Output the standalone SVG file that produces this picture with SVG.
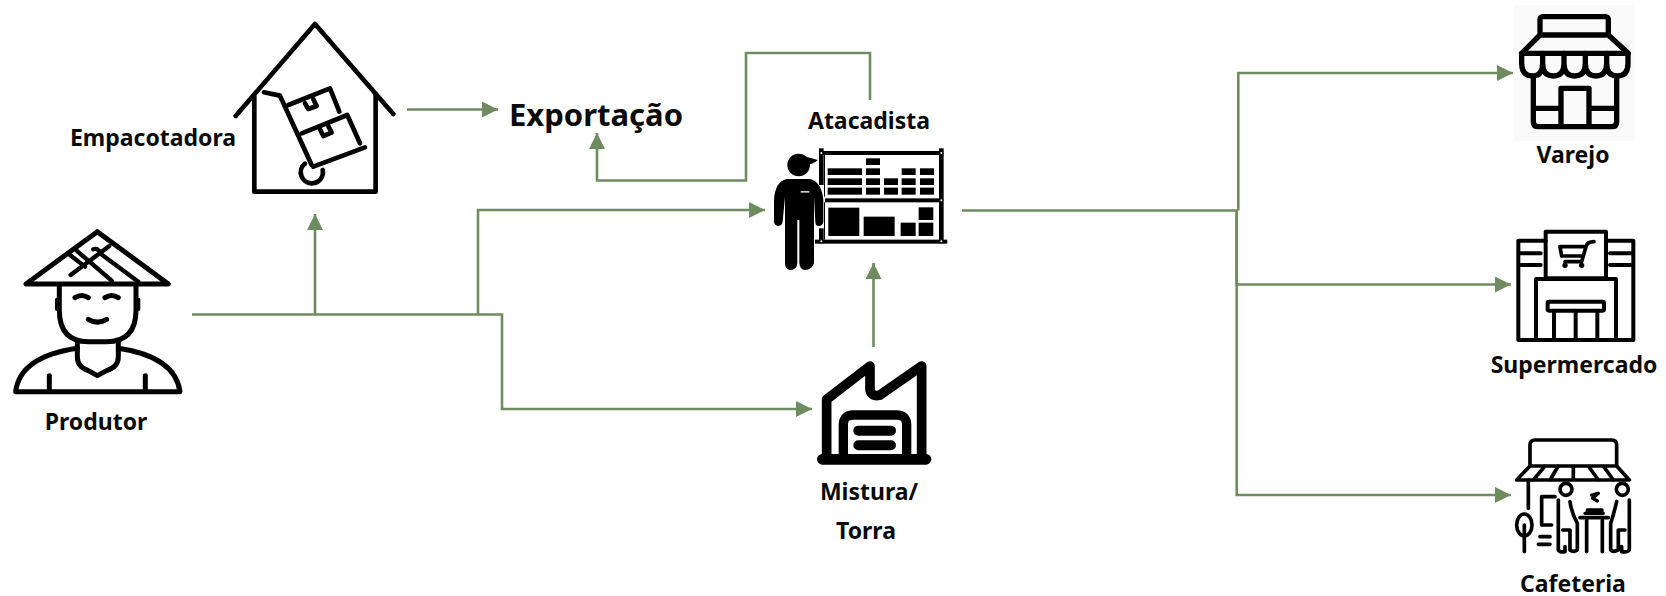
<svg xmlns="http://www.w3.org/2000/svg" width="1666" height="596" viewBox="0 0 1666 596">
<style>
.ic{fill:none;stroke:#000;stroke-linecap:round;stroke-linejoin:round}
.k{fill:#000;stroke:none}
.w{fill:#fff;stroke:none}
.c{fill:none;stroke:#6f8c60;stroke-width:2.6;marker-end:url(#a)}
.n{fill:none;stroke:#6f8c60;stroke-width:2.6}
text{font-family:"Noto Sans","Open Sans","DejaVu Sans",sans-serif;font-weight:700;fill:#0a0a0a;text-anchor:middle;font-size:23px}
</style>
<defs><marker id="a" markerUnits="userSpaceOnUse" markerWidth="16" markerHeight="16" refX="16" refY="8" orient="auto"><path d="M0 0L16 8L0 16Z" fill="#6f8c60"/></marker></defs>
<rect width="1666" height="596" fill="#fff"/>
<g id="connectors">
<path class="n" d="M192 314.500H478"/>
<path class="c" d="M315 314.500V214"/>
<path class="c" d="M478 314.500V210H765"/>
<path class="c" d="M478 314.500H502V409H812"/>
<path class="c" d="M407 109.500H498"/>
<path class="c" d="M870 100V53H746V180.500H597V133"/>
<path class="c" d="M873.500 347V263"/>
<path class="n" d="M962 210.500H1238"/>
<path class="c" d="M1238.300 210.500V73H1513"/>
<path class="c" d="M1236.700 210.500V284.500H1511"/>
<path class="c" d="M1236.700 210.500V495H1511"/>
</g>
<g id="produtor">
<g transform="translate(0 210) scale(.3333)" class="ic" stroke-width="15">
<path d="M292 65L78 222H505Z"/>
<path d="M210 135L255 170M212 195L328 108M230 122L335 212M280 118Q295 112 300 130L415 215" stroke-width="13"/>
<path d="M178 225V300Q178 395 265 395H320Q408 395 408 300V225"/>
<path d="M170 268V298M416 268V298" stroke-width="10"/>
<path d="M225 263Q245 250 265 263M315 263Q335 250 355 263M265 328Q292 345 320 328"/>
<path d="M232 398V440Q232 470 265 482L292 497L320 482Q355 470 355 440V398"/>
<path d="M232 415Q60 440 47 545H540Q525 440 355 415M148 497V540M436 497V540"/>
</g>
<text x="96" y="430">Produtor</text>
</g>
<g id="empacotadora">
<g transform="translate(60 10) scale(.3333)" class="ic" stroke-width="14">
<path d="M527 318L765 42L1000 312M583 255V545H947V250"/>
<path d="M612 247L660 257L755 465M760 470L915 412"/>
<path d="M735 461A33 33 0 0 0 755 520A33 33 0 0 0 788 480"/>
<path d="M685 285L810 235L838 305M725 370L862 315L900 400"/>
<path d="M735 280L745 297L770 288L760 268M780 358L790 378L815 368L805 348"/>
</g>
<text x="153" y="146">Empacotadora</text>
</g>
<g id="exportacao"><text x="596" y="126" style="font-size:31px">Exportação</text></g>
<g id="atacadista">
<text x="869" y="129">Atacadista</text>
<g transform="translate(740 100) scale(.3333)">
<g class="k">
<circle cx="176" cy="195" r="34"/>
<path d="M143 190Q165 152 198 170L234 180Q215 197 190 194Z"/>
<path d="M140 237H210Q245 245 250 300V365Q248 378 236 378Q226 378 226 365L222 290V490Q215 510 195 510Q180 510 178 490V360H172V490Q170 510 152 510Q135 510 135 490V290L128 365Q125 378 113 378Q100 375 102 360V300Q105 245 140 237Z"/>
<rect x="237" y="145" width="14" height="110"/><rect x="237" y="385" width="14" height="45"/><rect x="597" y="145" width="14" height="285"/>
<rect x="240" y="153" width="370" height="12"/><rect x="255" y="295" width="355" height="12"/><rect x="225" y="419" width="397" height="12"/>
<rect x="263" y="205" width="103" height="20"/><rect x="263" y="235" width="103" height="20"/><rect x="263" y="263" width="103" height="21"/>
<rect x="378" y="175" width="42" height="20"/><rect x="378" y="205" width="42" height="20"/><rect x="378" y="235" width="42" height="20"/><rect x="378" y="263" width="42" height="21"/>
<rect x="432" y="235" width="42" height="20"/><rect x="432" y="263" width="42" height="21"/>
<rect x="485" y="205" width="42" height="20"/><rect x="485" y="235" width="42" height="20"/><rect x="485" y="263" width="42" height="21"/>
<rect x="540" y="205" width="42" height="20"/><rect x="540" y="235" width="42" height="20"/><rect x="540" y="263" width="42" height="21"/>
<rect x="265" y="323" width="93" height="85"/><rect x="371" y="350" width="93" height="58"/><rect x="482" y="368" width="45" height="40"/><rect x="536" y="322" width="44" height="38"/><rect x="536" y="368" width="44" height="40"/>
<rect x="252" y="165" width="3" height="125"/><rect x="252" y="307" width="3" height="112"/>
</g>
<rect x="182" y="273" width="26" height="5" fill="#ccc"/>
<circle class="w" cx="244" cy="159" r="3"/><circle class="w" cx="604" cy="159" r="3"/><circle class="w" cx="604" cy="301" r="3"/><circle class="w" cx="604" cy="424" r="3"/><circle class="w" cx="244" cy="424" r="3"/>
</g>
</g>
<g id="mistura">
<g transform="translate(790 340) scale(.3333)" class="ic">
<path d="M110 352V178L240 78V150Q245 172 270 165L395 78V352" stroke-width="29"/>
<path d="M97 358H408" stroke-width="32"/>
<path d="M160 350V255Q160 225 190 225H320Q350 225 350 255V350" stroke-width="28"/>
<path d="M205 272H303M205 316H303" stroke-width="30"/>
</g>
<text x="869" y="500">Mistura/</text>
<text x="866" y="539">Torra</text>
</g>
<g id="varejo">
<rect x="1514" y="5" width="121" height="136" fill="#fafafa"/>
<g transform="translate(1490 0) scale(.3333)" class="ic" stroke-width="16">
<rect x="150" y="50" width="205" height="55" rx="8"/>
<path d="M150 105L95 160H415L355 105"/>
<path d="M95 160V190Q95 228 128 228Q158 228 158 190V160V190Q158 228 190 228Q222 228 222 190V160V190Q222 228 254 228Q286 228 286 190V160V190Q286 228 318 228Q350 228 350 190V160V190Q350 228 382 228Q414 228 414 190V160"/>
<path d="M130 230V365Q130 380 145 380H365Q380 380 380 365V230"/>
<path d="M213 375V265H297V375M135 325H213M297 325H375"/>
</g>
<text x="1573" y="163">Varejo</text>
</g>
<g id="supermercado">
<g transform="translate(1480 220) scale(.3333)" class="ic" stroke-width="12">
<rect x="197" y="35" width="181" height="140"/>
<path d="M197 62H115V360H460V62H378M115 100H182M115 135H182M390 100H460M390 135H460"/>
<path d="M168 360V177H408V360"/>
<rect x="203" y="245" width="169" height="27" rx="4"/>
<path d="M222 272V358M287 272V358M352 272V358"/>
<path d="M342 65Q322 65 318 80L305 125H255M240 80H312M245 108H308M240 80L245 108" stroke-width="11"/>
<circle cx="255" cy="136" r="8" class="k"/><circle cx="305" cy="136" r="8" class="k"/>
</g>
<text x="1574" y="373">Supermercado</text>
</g>
<g id="cafeteria">
<g transform="translate(1490 430) scale(.3333)" class="ic" stroke-width="11">
<path d="M120 105V45Q120 30 135 30H365Q380 30 380 45V105"/>
<path d="M120 108H380L418 150H80ZM165 108L130 150M205 108L180 150M250 108V150M295 108L325 150M340 108L370 150"/>
<path d="M115 150V235"/>
<ellipse cx="103" cy="285" rx="23" ry="33"/><path d="M103 285V365"/>
<circle cx="228" cy="178" r="18"/><circle cx="397" cy="178" r="18"/>
<path d="M195 200H155V285H185M150 320H180M145 343H180"/>
<path d="M205 210V360Q210 368 225 365V350M240 215Q245 250 262 280V360Q250 368 240 360V300H218"/>
<path d="M418 210V360Q412 368 395 365V350M380 215Q372 250 362 280V360Q370 368 385 360V300H405"/>
<path d="M270 263H355M290 270V365M337 270V365"/>
<path d="M285 250H340M292 250V240H336V250M305 195L325 190L308 205L322 213" stroke-width="10"/>
</g>
<text x="1573" y="592">Cafeteria</text>
</g>
</svg>
